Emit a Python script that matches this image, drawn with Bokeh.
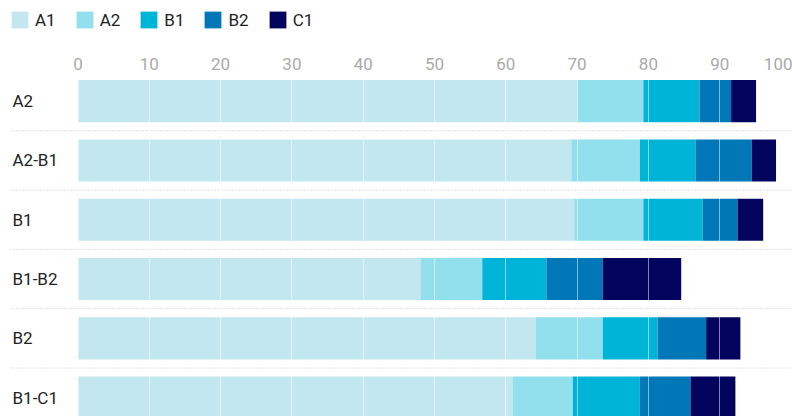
from bokeh.plotting import figure
from bokeh.layouts import column
from bokeh.models import (ColumnDataSource, Range1d, FixedTicker, Legend, LegendItem,
                          LabelSet, Span)
from bokeh.core.properties import value
from bokeh.embed import file_html
from bokeh.resources import INLINE

# Rows, top to bottom
categories = ["A2", "A2-B1", "B1", "B1-B2", "B2", "B1-C1"]

# Share of each level per row (percent)
series = ["A1", "A2", "B1", "B2", "C1"]
a1 = [70.0, 69.2, 69.6, 48.1, 64.2, 61.0]
a2 = [9.3, 9.6, 9.7, 8.6, 9.4, 8.4]
b1 = [7.9, 7.8, 8.3, 9.0, 7.7, 9.4]
b2 = [4.4, 7.9, 4.9, 7.9, 6.8, 7.1]
c1 = [3.5, 3.4, 3.6, 11.0, 4.8, 6.3]

x_ticks = [0, 10, 20, 30, 40, 50, 60, 70, 80, 90, 100]
colors = ["#c2e7ef", "#92dfee", "#00b4d8", "#0077b6", "#03045e"]

FONT = "Roboto"
X_START, X_END = -9.47, 100.21

source = ColumnDataSource(dict(
    y=list(range(len(categories))),
    name=categories,
    A1=a1, A2=a2, B1=b1, B2=b2, C1=c1,
))

# ---- legend strip: hidden copies of the stacks feed the legend swatches ----
key = figure(width=792, height=41, output_backend="svg", toolbar_location=None,
             x_axis_location=None, y_axis_location=None,
             x_range=Range1d(X_START, X_END), y_range=Range1d(5.318, -0.5),
             min_border=0)
key.outline_line_color = None
key.grid.visible = False
key_renderers = key.hbar_stack(series, y="y", height=0.71, color=colors,
                               source=source, line_color=None)
for r in key_renderers:
    r.visible = False
key.add_layout(Legend(items=[LegendItem(label=s, renderers=[r])
                             for s, r in zip(series, key_renderers)],
                      orientation="horizontal", location=(-1, 11),
                      glyph_width=21, glyph_height=21, label_standoff=5, spacing=18,
                      label_height=21,
                      padding=10, margin=0, border_line_color=None,
                      background_fill_alpha=0, inactive_fill_alpha=0,
                      label_text_font=FONT, label_text_font_size="17px",
                      label_text_color="#222222"))

# ---- stacked bars ----
p = figure(width=792, height=375, output_backend="svg", toolbar_location=None,
           x_range=Range1d(X_START, X_END), y_range=Range1d(5.318, -0.5),
           x_axis_location="above", y_axis_location=None,
           min_border_left=10, min_border_right=0, min_border_bottom=0,
           min_border_top=30)
p.outline_line_color = None
p.background_fill_color = "white"

p.hbar_stack(series, y="y", height=0.71, color=colors, source=source, line_color=None)

# dotted separators between rows
for i in range(len(categories)):
    p.add_layout(Span(location=i + 0.5, dimension="width", line_color="#c4c4c4",
                      line_width=1, line_dash="1 2"))

# row names on the left
p.add_layout(LabelSet(x=X_START, y="y", text="name", source=source, x_offset=2,
                      text_baseline="middle", text_align="left",
                      text_font=value(FONT), text_font_size="17px",
                      text_color="#222222"))

ax = p.xaxis[0]
ax.ticker = FixedTicker(ticks=x_ticks)
ax.axis_line_color = None
ax.major_tick_line_color = None
ax.minor_tick_line_color = None
ax.major_tick_out = 0
ax.major_label_standoff = 2
ax.major_label_text_font = FONT
ax.major_label_text_font_size = "17px"
ax.major_label_text_color = "#aaaaaa"

p.ygrid.visible = False
p.xgrid.ticker = FixedTicker(ticks=x_ticks)
p.xgrid.grid_line_color = "white"
p.xgrid.grid_line_alpha = 0.5
p.xgrid.level = "overlay"

open("out.html", "w").write(file_html(column(key, p, spacing=0), INLINE))
